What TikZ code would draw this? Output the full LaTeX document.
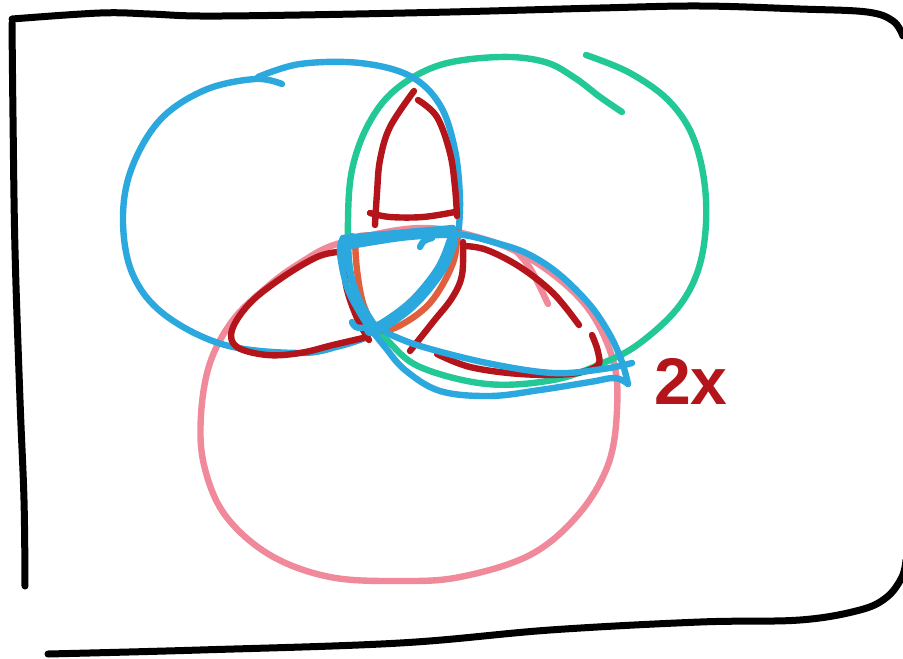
\documentclass[tikz,border=0pt]{standalone}
\usepackage{fontspec}
\setmainfont{Liberation Sans}
\definecolor{pblue}{HTML}{2BA9DF}
\definecolor{pgreen}{HTML}{22C895}
\definecolor{ppink}{HTML}{F0899A}
\definecolor{pred}{HTML}{B3151A}
\definecolor{porange}{HTML}{E0603E}
\tikzset{
  pen/.style={line width=6.4pt, line cap=round, line join=round},
  frame/.style={pen, black, line width=7pt},
  bluepen/.style={pen, pblue},
  greenpen/.style={pen, pgreen},
  pinkpen/.style={pen, ppink},
  redpen/.style={pen, pred},
  orangepen/.style={pen, porange},
}
\begin{document}
\begin{tikzpicture}[x=1pt,y=-1pt]
\useasboundingbox (0,0) rectangle (903,659);
\fill[white] (0,0) rectangle (903,659);
% frame
\draw[frame] plot[smooth, tension=0.6] coordinates {(25,586) (24,500) (20,400) (15,250) (13,117) (12,23)};
\draw[frame] plot[smooth, tension=0.6] coordinates {(12,19) (100,13) (150,14) (200,16) (300,15) (450,12) (600,8) (700,6) (800,9) (867,12) (893,21) (903,36)};
\draw[frame] plot[smooth, tension=0.6] coordinates {(48,654) (200,650) (400,643) (550,630) (700,622) (800,620) (860,610) (887,597) (902,577) (906,560)};
% pink circle
\draw[pinkpen] plot[smooth cycle, tension=0.6] coordinates {(340,243) (420,228) (487,240) (540,265) (587,307) (613,360) (617,410) (608,465) (578,515) (530,555) (460,577) (400,581) (330,577) (270,555) (225,515) (204,465) (201,415) (210,363) (233,320) (267,287) (300,263)};
\draw[pinkpen] plot[smooth, tension=0.6] coordinates {(513,248) (530,268) (548,304)};
% green circle
\draw[greenpen] plot[smooth, tension=0.6] coordinates {(586,55) (630,73) (670,102) (695,142) (706,200) (701,260) (680,305) (640,343) (603,363) (553,380) (487,384) (420,367) (387,340) (363,313) (350,270) (348,220) (352,170) (368,125) (395,90) (440,65) (500,57) (545,62) (575,78) (600,97) (622,112)};
% blue circle
\draw[bluepen] plot[smooth, tension=0.6] coordinates {(282,84) (255,79) (205,90) (160,120) (131,170) (123,222) (133,275) (165,315) (225,345) (300,353) (340,346) (368,337)};
\draw[bluepen] plot[smooth, tension=0.6] coordinates {(258,77) (300,64) (360,63) (410,76) (440,105) (455,150) (460,200) (458,238)};
% red top petal
\draw[redpen] plot[smooth, tension=0.6] coordinates {(375,225) (377,193) (380,160) (390,127) (414,91)};
\draw[redpen] plot[smooth, tension=0.6] coordinates {(418,100) (437,117) (450,153) (455,187) (457,216)};
\draw[redpen] plot[smooth, tension=0.6] coordinates {(370,213) (390,217) (423,217) (455,212)};
% red left petal
\draw[redpen] plot[smooth, tension=0.6] coordinates {(338,252) (317,257) (283,277) (250,303) (232,330) (237,347) (267,355) (300,353) (333,345) (363,338)};
% red inner lines
\draw[redpen] plot[smooth, tension=0.6] coordinates {(344,248) (346,285) (357,318) (369,340)};
\draw[redpen] plot[smooth, tension=0.6] coordinates {(463,242) (462,275) (452,298) (433,322) (410,351)};
% red right petal
\draw[redpen] plot[smooth, tension=0.6] coordinates {(465,246) (487,250) (520,267) (553,293) (579,325)};
\draw[redpen] plot[smooth, tension=0.6] coordinates {(592,335) (598,352) (597,366) (570,374) (520,374) (470,367) (437,354)};
% orange inner triangle
\draw[orangepen] plot[smooth, tension=0.6] coordinates {(355,240) (357,270) (363,303) (375,330)};
\draw[orangepen] plot[smooth, tension=0.6] coordinates {(457,232) (453,263) (430,303) (397,327) (374,331)};
\draw[orangepen] plot[smooth, tension=0.6] coordinates {(360,236) (410,233) (452,232)};
% blue triangle (several strokes)
\draw[bluepen] plot[smooth, tension=0.6] coordinates {(343,238) (397,233) (453,228)};
\draw[bluepen] plot[smooth, tension=0.6] coordinates {(350,246) (400,238) (440,235) (456,236)};
\draw[bluepen, line width=12pt] plot[smooth, tension=0.6] coordinates {(452,242) (440,270) (413,303) (382,326) (370,330)};
\draw[bluepen] plot[smooth, tension=0.6] coordinates {(456,233) (445,262) (420,296) (390,320) (360,328) (352,322)};
\draw[bluepen] plot[smooth, tension=0.6] coordinates {(343,238) (340,253) (347,287) (360,313) (373,333)};
\draw[bluepen] plot[smooth, tension=0.6] coordinates {(352,236) (345,248) (352,280) (362,305) (378,330)};
\draw[bluepen] plot[smooth, tension=0.6] coordinates {(348,244) (350,270) (358,298) (370,322)};
\draw[bluepen] plot[smooth, tension=0.6] coordinates {(420,247) (424,241) (432,238)};
% blue outline around right petal
\draw[bluepen] plot[smooth, tension=0.6] coordinates {(345,242) (400,234) (456,234) (500,244) (530,255) (560,275) (590,305) (610,335) (622,362) (628,384)};
\draw[bluepen] plot[smooth, tension=0.6] coordinates {(628,384) (615,378) (590,382) (540,390) (490,396) (440,391) (405,370) (385,347) (373,332)};
\draw[bluepen] plot[smooth, tension=0.6] coordinates {(632,363) (603,369) (553,373) (487,363) (420,346) (387,333)};
% label
\node[text=pred, font=\fontsize{66}{66}\selectfont\bfseries, inner sep=0pt] (lbl) at (691,381) {2x};
\end{tikzpicture}
\end{document}
